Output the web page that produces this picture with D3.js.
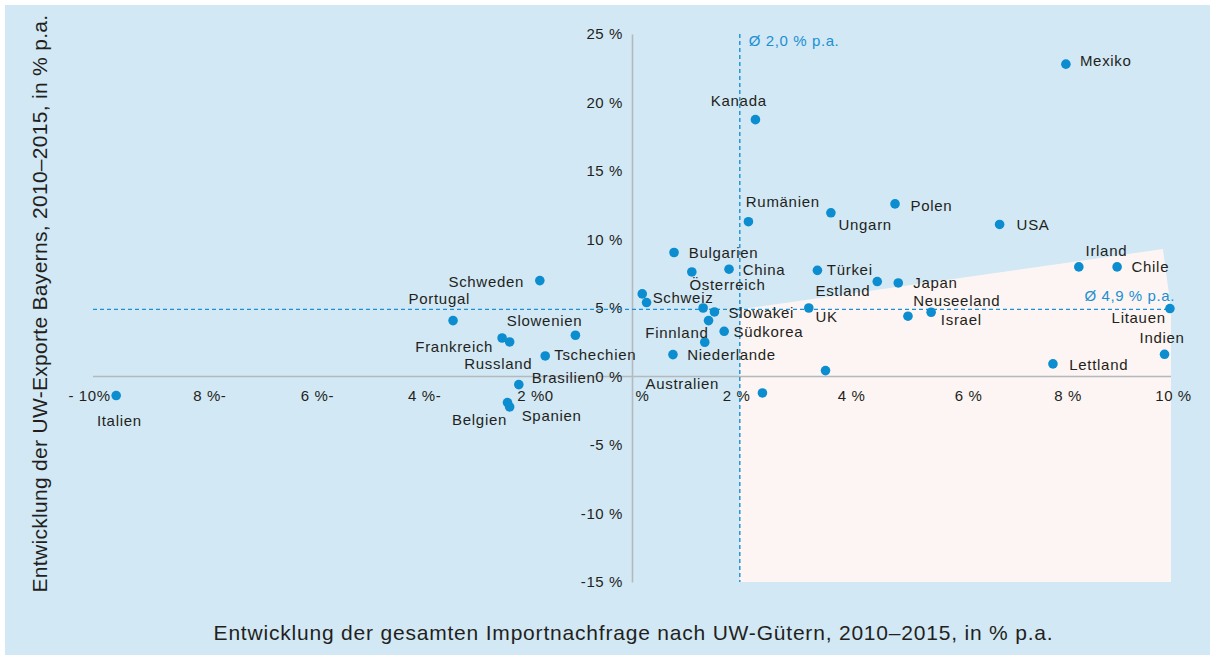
<!DOCTYPE html>
<html>
<head>
<meta charset="utf-8">
<script src="https://cdn.jsdelivr.net/npm/d3@7"></script>
<style>
  html, body { margin: 0; padding: 0; background: #ffffff; }
  svg { display: block; font-family: "Liberation Sans", Arial, Helvetica, sans-serif; }
</style>
</head>
<body>
<svg id="chart" width="1210" height="659"></svg>
<script>
// Import demand growth (x) vs. Bavarian export growth (y), 2010–2015, % p.a.
const countries = [
  "Mexiko", "Kanada", "Rumänien", "Ungarn", "Polen", "USA", "Irland", "Chile",
  "Bulgarien", "Österreich", "China", "Türkei", "Estland", "Japan", "Schweiz", "",
  "", "Slowakei", "", "UK", "Neuseeland", "Israel", "Litauen", "Südkorea",
  "Finnland", "Niederlande", "Lettland", "Indien", "Australien", "",
  "Schweden", "Portugal", "Slowenien", "Frankreich", "Russland", "Tschechien",
  "Brasilien", "Italien", "Belgien", "Spanien"
];
const importGrowth = [
  8.05, 2.29, 2.16, 3.69, 4.88, 6.82, 8.29, 9.00,
  0.78, 1.11, 1.80, 3.44, 4.55, 4.94, 0.19, 0.27,
  1.32, 1.53, 1.42, 3.28, 5.12, 5.55, 9.98, 1.71,
  1.35, 0.76, 7.81, 9.88, 2.42, 3.59,
  -1.71, -3.32, -1.05, -2.41, -2.27, -1.61,
  -2.10, -9.57, -2.31, -2.27
];
const exportGrowth = [
  22.8, 18.75, 11.3, 11.95, 12.6, 11.1, 8.0, 8.0,
  9.05, 7.63, 7.83, 7.75, 6.93, 6.83, 6.03, 5.40,
  5.0, 4.71, 4.08, 5.0, 4.40, 4.69, 4.96, 3.30,
  2.50, 1.60, 0.92, 1.62, -1.20, 0.43,
  7.0, 4.08, 3.01, 2.81, 2.52, 1.50,
  -0.59, -1.39, -1.90, -2.22
];

const avgImport = 2.0;   // Ø Importnachfrage
const avgExport = 4.9;   // Ø UW-Exporte

// Shaded zone: above-average import demand, below the upper boundary
const zoneX = [avgImport, avgImport, 9.85, 10, 10];
const zoneY = [-15, avgExport, 9.3, avgExport, -15];

const xTicks = [-10, -8, -6, -4, -2, 0, 2, 4, 6, 8, 10];
const xTickLabels = ["- 10%", "8 %-", "6 %-", "4 %-", "2 %0", "%", "2 %", "4 %", "6 %", "8 %", "10 %"];
const yTicks = [-15, -10, -5, 0, 5, 10, 15, 20, 25];
const yTickLabels = ["-15 %", "-10 %", "-5 %", "0 %", "5 %", "10 %", "15 %", "20 %", "25 %"];

// ---- layout ----
const xTickNudge = [-4, 8.5, 8.3, 7.8, 10.8, 10, -3.8, 3.4, 12.6, 4.3, 2];
const labelOffset = {
  "Mexiko": [14, 2], "Kanada": [-44.6, -13.6], "Rumänien": [-2.6, -14.3],
  "Ungarn": [7.6, 16.8], "Polen": [15.4, 6.7], "USA": [17, 5.6],
  "Irland": [6.7, -10.7], "Chile": [14.4, 5.3], "Bulgarien": [14.7, 5.7],
  "Österreich": [-2.4, 18.2], "China": [13.7, 5.4], "Türkei": [9.4, 5],
  "Estland": [-61.8, 14.7], "Japan": [15, 4.8], "Schweiz": [10.4, 9],
  "Slowakei": [14, 6], "UK": [6.7, 13.6], "Neuseeland": [5.3, -10.3],
  "Israel": [9.7, 13], "Litauen": [-58.3, 14], "Südkorea": [9.3, 5.7],
  "Finnland": [-59.4, -4.7], "Niederlande": [14.3, 5.7], "Lettland": [16.3, 6.3],
  "Indien": [-25, -11.7], "Australien": [-117, -4.4], "Schweden": [-91.4, 6.4],
  "Portugal": [-44.5, -16.3], "Slowenien": [-68.6, -9], "Frankreich": [-86.8, 14],
  "Russland": [-45.4, 26.6], "Tschechien": [9, 3.6], "Brasilien": [13, -1.5],
  "Italien": [-19.3, 30.4], "Belgien": [-55.4, 22.7], "Spanien": [12, 13.8]
};

const BG = "#d2e8f5";
const ZONE = "#fdf5f3";
const BLUE = "#0b8dcf";
const DASH = "#1b90d2";
const AXIS = "#b5b9bc";
const TEXT = "#231f20";

const svg = d3.select("#chart");

const x = d3.scaleLinear().domain([-10, 10]).range([93, 1171]);
const y = d3.scaleLinear().domain([-15, 25]).range([582, 34]);

// panel
svg.append("rect").attr("x", 5).attr("y", 5).attr("width", 1205).attr("height", 650).attr("fill", BG);

// shaded zone
const zonePts = zoneX.map((v, i) => [x(v), y(zoneY[i])]);
svg.append("path")
  .attr("d", d3.line()(zonePts) + "Z")
  .attr("fill", ZONE);

// zero line of the horizontal axis
svg.append("line")
  .attr("x1", x(-10)).attr("x2", x(10))
  .attr("y1", y(0)).attr("y2", y(0))
  .attr("stroke", AXIS).attr("stroke-width", 1.6);

// y axis
const yAxis = svg.append("g")
  .attr("transform", `translate(${x(0)},0)`)
  .call(d3.axisLeft(y).tickValues(yTicks).tickSize(0).tickPadding(9)
    .tickFormat((d, i) => yTickLabels[i]));
yAxis.select(".domain").attr("stroke", AXIS).attr("stroke-width", 1.6);
yAxis.selectAll("text")
  .attr("fill", TEXT).style("font-size", "15px").style("letter-spacing", "0.6px")
  .style("font-family", "\"Liberation Sans\", Arial, sans-serif");

// x axis (labels only, the line is the zero line above)
const xAxis = svg.append("g")
  .attr("transform", `translate(0,${y(0)})`)
  .call(d3.axisBottom(x).tickValues(xTicks).tickSize(0).tickPadding(13.5)
    .tickFormat((d, i) => xTickLabels[i]));
xAxis.select(".domain").remove();
xAxis.selectAll("text")
  .attr("fill", TEXT).style("font-size", "15px").style("letter-spacing", "0.6px")
  .style("font-family", "\"Liberation Sans\", Arial, sans-serif")
  .attr("dx", (d, i) => xTickNudge[i]);

// average lines
svg.append("line")
  .attr("x1", x(avgImport)).attr("x2", x(avgImport))
  .attr("y1", y(25)).attr("y2", y(-15))
  .attr("stroke", DASH).attr("stroke-width", 1.4).attr("stroke-dasharray", "4,3");
svg.append("line")
  .attr("x1", x(-10)).attr("x2", x(10))
  .attr("y1", y(avgExport)).attr("y2", y(avgExport))
  .attr("stroke", DASH).attr("stroke-width", 1.4).attr("stroke-dasharray", "4,3");

const fmt = v => "Ø " + d3.format(".1f")(v).replace(".", ",") + " % p.a.";
svg.append("text")
  .attr("x", x(avgImport) + 9).attr("y", 46)
  .attr("fill", DASH).style("font-size", "15px").style("letter-spacing", "0.6px")
  .text(fmt(avgImport));
svg.append("text")
  .attr("x", x(10) + 4).attr("y", y(avgExport) - 8)
  .attr("text-anchor", "end")
  .attr("fill", DASH).style("font-size", "15px").style("letter-spacing", "0.6px")
  .text(fmt(avgExport));

// points
const points = countries.map((c, i) => ({ name: c, ix: importGrowth[i], ex: exportGrowth[i] }));

svg.append("g").selectAll("circle")
  .data(points)
  .join("circle")
  .attr("cx", d => x(d.ix))
  .attr("cy", d => y(d.ex))
  .attr("r", 4.8)
  .attr("fill", BLUE);

svg.append("g").selectAll("text")
  .data(points.filter(d => d.name && labelOffset[d.name]))
  .join("text")
  .attr("x", d => x(d.ix) + labelOffset[d.name][0])
  .attr("y", d => y(d.ex) + labelOffset[d.name][1])
  .attr("fill", TEXT)
  .style("font-size", "15px")
  .style("letter-spacing", "0.7px")
  .text(d => d.name);

// axis titles
svg.append("text")
  .attr("transform", "translate(47,303.5) rotate(-90)")
  .attr("text-anchor", "middle")
  .attr("fill", TEXT)
  .style("font-size", "21px")
  .style("letter-spacing", "0.3px")
  .text("Entwicklung der UW-Exporte Bayerns, 2010–2015, in % p.a.");

svg.append("text")
  .attr("x", 633.5).attr("y", 640)
  .attr("text-anchor", "middle")
  .attr("fill", TEXT)
  .style("font-size", "21px")
  .style("letter-spacing", "0.8px")
  .text("Entwicklung der gesamten Importnachfrage nach UW-Gütern, 2010–2015, in % p.a.");
</script>
</body>
</html>
